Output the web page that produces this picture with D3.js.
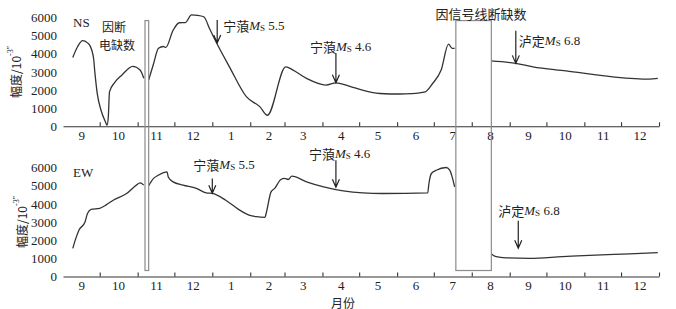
<!DOCTYPE html>
<html>
<head>
<meta charset="utf-8">
<script src="https://cdn.jsdelivr.net/npm/d3@7"></script>
<style>
body { margin: 0; background: #fff; }
</style>
</head>
<body>
<script>
// Width and height
var w = 676;
var h = 309;

// Month labels along both x axes, and y tick values
var monthLabels = ["9", "10", "11", "12", "1", "2", "3", "4", "5", "6", "7", "8", "9", "10", "11", "12"];
var yTicks = [0, 1000, 2000, 3000, 4000, 5000, 6000];

// NS component (date, amplitude), split by the two data gaps
var nsPart1 = [["2021-09-09", 3800], ["2021-09-13", 4400], ["2021-09-17", 4720], ["2021-09-21", 4600],
  ["2021-09-23", 4450], ["2021-09-26", 3740], ["2021-09-27", 3000], ["2021-09-29", 1800],
  ["2021-10-02", 900], ["2021-10-06", 200], ["2021-10-07", 60], ["2021-10-08", 500],
  ["2021-10-09", 1900], ["2021-10-13", 2400], ["2021-10-19", 2820], ["2021-10-28", 3300],
  ["2021-11-03", 3100], ["2021-11-06", 2650]];
var nsPart2 = [["2021-11-10", 2550], ["2021-11-14", 3450], ["2021-11-18", 4300], ["2021-11-22", 4400],
  ["2021-11-24", 4350], ["2021-11-30", 5300], ["2021-12-05", 5710], ["2021-12-10", 5720],
  ["2021-12-15", 6140], ["2021-12-20", 6120], ["2021-12-25", 6040], ["2021-12-30", 5350],
  ["2022-01-04", 4660], ["2022-01-15", 3280], ["2022-01-29", 1620], ["2022-02-09", 1070],
  ["2022-02-15", 610], ["2022-03-02", 3280], ["2022-03-08", 3100], ["2022-03-19", 2640],
  ["2022-04-04", 2270], ["2022-04-12", 2400], ["2022-04-26", 2140], ["2022-05-18", 1810],
  ["2022-06-03", 1780], ["2022-06-13", 1800], ["2022-06-24", 1900], ["2022-06-30", 2360],
  ["2022-07-07", 3100], ["2022-07-13", 4530], ["2022-07-16", 4300], ["2022-07-18", 4300]];
var nsPart3 = [["2022-08-17", 3610], ["2022-09-06", 3470], ["2022-09-20", 3280], ["2022-10-17", 3060],
  ["2022-11-24", 2730], ["2022-12-24", 2600], ["2022-12-31", 2640]];

// EW component
var ewPart1 = [["2021-09-09", 1550], ["2021-09-11", 2000], ["2021-09-14", 2550], ["2021-09-19", 3000],
  ["2021-09-21", 3470], ["2021-09-24", 3690], ["2021-10-01", 3750], ["2021-10-06", 3930],
  ["2021-10-12", 4200], ["2021-10-23", 4570], ["2021-10-31", 5030], ["2021-11-03", 5150],
  ["2021-11-06", 5030]];
var ewPart2 = [["2021-11-10", 5000], ["2021-11-14", 5400], ["2021-11-18", 5580], ["2021-11-25", 5760],
  ["2021-11-26", 5480], ["2021-11-30", 5210], ["2021-12-08", 5030], ["2021-12-19", 4850],
  ["2021-12-27", 4600], ["2022-01-01", 4570], ["2022-01-12", 4200], ["2022-01-23", 3670],
  ["2022-01-31", 3380], ["2022-02-06", 3290], ["2022-02-13", 3250], ["2022-02-14", 3470],
  ["2022-02-18", 4660], ["2022-02-21", 4850], ["2022-02-26", 5340], ["2022-03-01", 5400],
  ["2022-03-04", 5340], ["2022-03-07", 5520], ["2022-03-19", 5210], ["2022-04-02", 4930],
  ["2022-04-18", 4710], ["2022-05-04", 4600], ["2022-05-20", 4570], ["2022-06-26", 4600],
  ["2022-06-27", 5120], ["2022-06-29", 5670], ["2022-07-03", 5850], ["2022-07-11", 6000],
  ["2022-07-14", 5850], ["2022-07-18", 4930]];
var ewPart3 = [["2022-08-17", 1240], ["2022-08-21", 1090], ["2022-08-29", 1030], ["2022-09-17", 1000],
  ["2022-10-14", 1090], ["2022-11-10", 1180], ["2022-12-08", 1240], ["2022-12-31", 1310]];

// Data gaps (start, end)
var gaps = [["2021-11-07", "2021-11-10"], ["2022-07-19", "2022-08-17"]];

// Earthquakes marked with arrows
var quakes = [
  { panel: 0, date: "2022-01-05", top: 5860, tip: 4600, name: "宁蒗", mag: "5.5", dx: 6, dy: 5 },
  { panel: 0, date: "2022-04-12", top: 4040, tip: 2400, name: "宁蒗", mag: "4.6", dx: -26, dy: -7 },
  { panel: 0, date: "2022-09-06", top: 5270, tip: 3470, name: "泸定", mag: "6.8", dx: 3, dy: 9 },
  { panel: 1, date: "2022-01-01", top: 5400, tip: 4580, name: "宁蒗", mag: "5.5", dx: -19, dy: -14 },
  { panel: 1, date: "2022-04-12", top: 6400, tip: 4910, name: "宁蒗", mag: "4.6", dx: -27, dy: -7 },
  { panel: 1, date: "2022-09-08", top: 3070, tip: 1550, name: "泸定", mag: "6.8", dx: -20, dy: -11 }
];

var parse = d3.utcParse("%Y-%m-%d");
var serif = "'Liberation Serif', 'Times New Roman', 'Noto Sans CJK SC', serif";
var cjk = "'Noto Sans CJK SC', sans-serif";
var ink = "#222";

// Scales
var xScale = d3.scaleUtc()
  .domain([parse("2021-09-01"), parse("2023-01-01")])
  .range([63, 659]);

var yTop = d3.scaleLinear().domain([0, 6000]).range([126.3, 17.5]);
var yBot = d3.scaleLinear().domain([0, 6000]).range([276.5, 167.5]);

var panels = [
  { name: "NS", y: yTop, parts: [nsPart1, nsPart2, nsPart3], labelX: 15 },
  { name: "EW", y: yBot, parts: [ewPart1, ewPart2, ewPart3], labelX: 21 }
];

var svg = d3.select("body")
  .append("svg")
  .attr("width", w)
  .attr("height", h)
  .style("background", "#fff");

var monthStarts = d3.utcMonth.range(parse("2021-10-01"), parse("2023-01-02"));
var monthMids = d3.utcMonth.range(parse("2021-09-01"), parse("2023-01-01"))
  .map(function(d) { return d3.utcDay.offset(d, 15); });

panels.forEach(function(p, pi) {
  var base = p.y(0);

  // tick marks pointing up
  var tickAxis = d3.axisBottom(xScale)
    .tickValues(monthStarts)
    .tickSizeInner(-4)
    .tickSizeOuter(0)
    .tickFormat("");
  var gx = svg.append("g")
    .attr("transform", "translate(0," + base + ")")
    .call(tickAxis);
  gx.selectAll("line, path").attr("stroke", "#333").attr("stroke-width", 1.1);

  // month labels
  var labelAxis = d3.axisBottom(xScale)
    .tickValues(monthMids)
    .tickSize(0)
    .tickPadding(4)
    .tickFormat(function(d, i) { return monthLabels[i]; });
  var gl = svg.append("g")
    .attr("transform", "translate(0," + base + ")")
    .call(labelAxis);
  gl.select(".domain").remove();
  gl.selectAll("text").attr("font-family", serif).attr("font-size", 13).attr("fill", ink);

  // y axis labels only
  var yAxis = d3.axisLeft(p.y).tickValues(yTicks).tickSize(0).tickPadding(5)
    .tickFormat(d3.format("d"));
  var gy = svg.append("g")
    .attr("transform", "translate(62,0)")
    .call(yAxis);
  gy.select(".domain").remove();
  gy.selectAll("text").attr("font-family", serif).attr("font-size", 13).attr("fill", ink);

  // y title
  var yt = svg.append("text")
    .attr("transform", "translate(" + p.labelX + "," + p.y(3000) + ") rotate(-90)")
    .attr("text-anchor", "middle")
    .attr("dominant-baseline", "central")
    .attr("font-family", cjk)
    .attr("font-size", 12)
    .attr("fill", ink);
  yt.append("tspan").text("幅度/10");
  yt.append("tspan").attr("font-family", serif).attr("font-size", 8).attr("dy", -5).text("-3″");

  // series
  var line = d3.line()
    .x(function(d) { return xScale(parse(d[0])); })
    .y(function(d) { return p.y(d[1]); })
    .curve(d3.curveMonotoneX);

  svg.append("g").selectAll("path")
    .data(p.parts)
    .enter()
    .append("path")
    .attr("d", line)
    .attr("fill", "none")
    .attr("stroke", "#333")
    .attr("stroke-width", 1.3);

  // panel name
  svg.append("text")
    .attr("x", 73)
    .attr("y", p.y(5700))
    .attr("dominant-baseline", "central")
    .attr("font-family", serif)
    .attr("font-size", 13)
    .attr("fill", ink)
    .text(p.name);
});

// Gap boxes spanning both panels
svg.selectAll("rect.gap")
  .data(gaps)
  .enter()
  .append("rect")
  .attr("class", "gap")
  .attr("x", function(d) { return xScale(parse(d[0])); })
  .attr("width", function(d) { return xScale(parse(d[1])) - xScale(parse(d[0])); })
  .attr("y", yTop(5830))
  .attr("height", yBot(330) - yTop(5830))
  .attr("fill", "none")
  .attr("stroke", "#8c8c8c")
  .attr("stroke-width", 1.2);

// Gap notes
svg.append("text").attr("x", 114).attr("y", 26).attr("text-anchor", "middle")
  .attr("dominant-baseline", "central").attr("font-family", cjk).attr("font-size", 12)
  .attr("fill", ink).text("因断");
svg.append("text").attr("x", 117).attr("y", 44).attr("text-anchor", "middle")
  .attr("dominant-baseline", "central").attr("font-family", cjk).attr("font-size", 12)
  .attr("fill", ink).text("电缺数");
svg.append("text").attr("x", 481).attr("y", 13).attr("text-anchor", "middle")
  .attr("dominant-baseline", "central").attr("font-family", cjk).attr("font-size", 13)
  .attr("fill", ink).text("因信号线断缺数");

// Earthquake arrows
quakes.forEach(function(q) {
  var y = panels[q.panel].y;
  var x = xScale(parse(q.date));
  var y0 = y(q.top), y1 = y(q.tip);
  svg.append("path")
    .attr("d", "M" + x + "," + y0 + "L" + x + "," + y1 +
      "M" + (x - 3.5) + "," + (y1 - 8) + "L" + x + "," + y1 + "L" + (x + 3.5) + "," + (y1 - 8))
    .attr("fill", "none")
    .attr("stroke", ink)
    .attr("stroke-width", 1.2);

  var t = svg.append("text")
    .attr("x", x + q.dx)
    .attr("y", y0 + q.dy)
    .attr("dominant-baseline", "central")
    .attr("font-family", serif)
    .attr("font-size", 13)
    .attr("fill", ink);
  t.append("tspan").attr("font-family", cjk).text(q.name);
  t.append("tspan").attr("font-style", "italic").text("M");
  t.append("tspan").attr("font-size", 9).attr("dy", 3).text("S");
  t.append("tspan").attr("dy", -3).text(" " + q.mag);
});

// x title
svg.append("text")
  .attr("x", 343)
  .attr("y", 302)
  .attr("text-anchor", "middle")
  .attr("dominant-baseline", "central")
  .attr("font-family", cjk)
  .attr("font-size", 12)
  .attr("fill", ink)
  .text("月份");
</script>
</body>
</html>
